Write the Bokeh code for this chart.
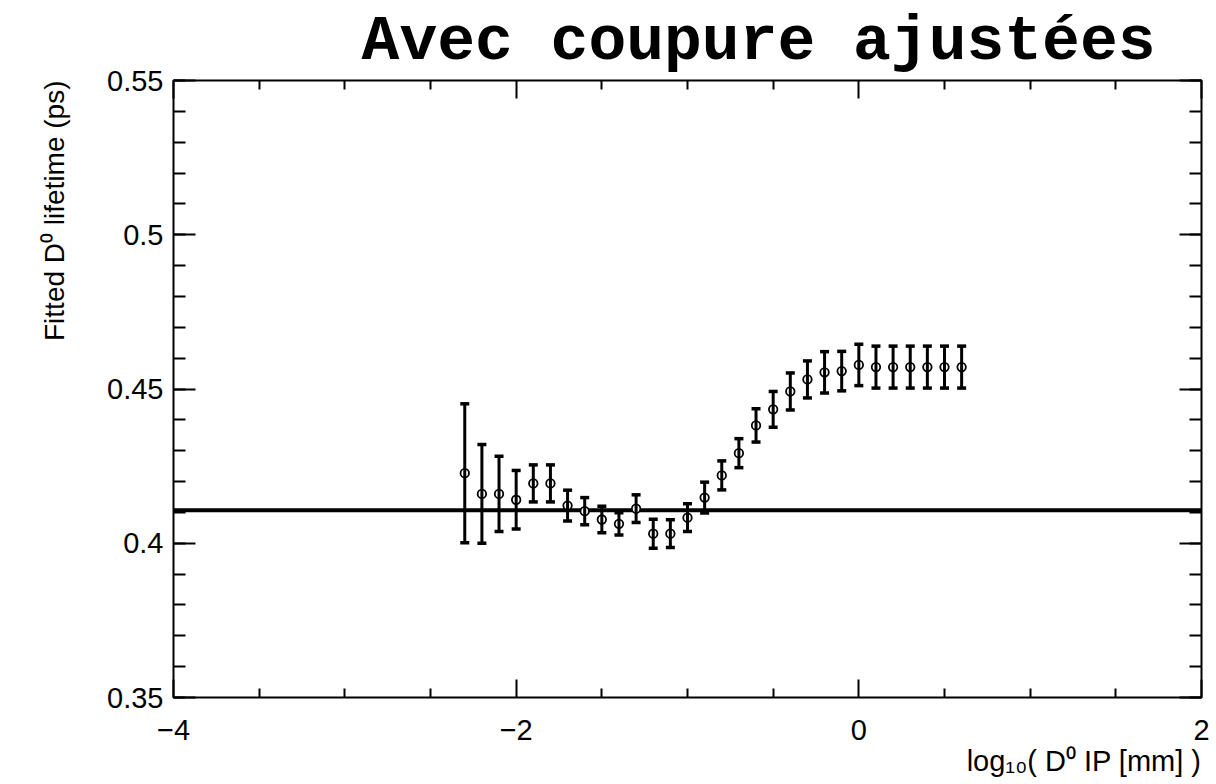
from bokeh.plotting import figure
from bokeh.models import (ColumnDataSource, Whisker, TeeHead, LinearAxis, FixedTicker,
                          CustomJSTickFormatter, Title, Range1d)
from bokeh.embed import file_html
from bokeh.resources import INLINE

# log10 of the D0 impact parameter (bin centres)
log_ip = [-2.3, -2.2, -2.1, -2.0, -1.9, -1.8, -1.7, -1.6, -1.5, -1.4,
          -1.3, -1.2, -1.1, -1.0, -0.9, -0.8, -0.7, -0.6, -0.5, -0.4,
          -0.3, -0.2, -0.1, 0.0, 0.1, 0.2, 0.3, 0.4, 0.5, 0.6]
# fitted lifetime (ps) for each cut value
lifetime = [0.4227, 0.4160, 0.4160, 0.4141, 0.4194, 0.4194, 0.4122, 0.4104, 0.4077, 0.4063,
            0.4112, 0.4031, 0.4031, 0.4083, 0.4148, 0.4220, 0.4292, 0.4382, 0.4434, 0.4492,
            0.4531, 0.4554, 0.4558, 0.4578, 0.4571, 0.4571, 0.4571, 0.4571, 0.4571, 0.4571]
# statistical uncertainty on the fitted lifetime (ps)
lifetime_err = [0.0225, 0.0160, 0.0122, 0.0095, 0.0060, 0.0060, 0.0050, 0.0044, 0.0043, 0.0036,
                0.0045, 0.0047, 0.0045, 0.0045, 0.0050, 0.0047, 0.0047, 0.0054, 0.0058, 0.0060,
                0.0060, 0.0067, 0.0064, 0.0067, 0.0068, 0.0068, 0.0068, 0.0068, 0.0068, 0.0068]
# reference lifetime drawn as a horizontal line
reference_lifetime = 0.4107

x_major = [-4, -2, 0, 2]
x_minor = [-3.5, -3.0, -2.5, -1.5, -1.0, -0.5, 0.5, 1.0, 1.5]
y_major = [0.35, 0.40, 0.45, 0.50, 0.55]
y_minor = [round(0.35 + 0.01 * i, 2) for i in range(21)]

title_text = "Avec coupure ajustées"
x_title = "log\u2081\u2080( D\u2070 IP [mm] )"
y_title = "Fitted D\u2070 lifetime (ps)"

X0, X1 = -4, 2
Y0, Y1 = 0.35, 0.55

src = ColumnDataSource(dict(
    x=log_ip,
    y=lifetime,
    lo=[v - e for v, e in zip(lifetime, lifetime_err)],
    hi=[v + e for v, e in zip(lifetime, lifetime_err)],
))

p = figure(width=1216, height=784, output_backend="svg", toolbar_location=None,
           x_range=Range1d(X0, X1), y_range=Range1d(Y0, Y1),
           x_axis_type=None, y_axis_type=None, title=None,
           min_border_left=173, min_border_right=15, min_border_top=80, min_border_bottom=87)
p.background_fill_color = "white"
p.border_fill_color = "white"
p.outline_line_color = "black"
p.outline_line_width = 2
p.grid.visible = False

minus_fmt = CustomJSTickFormatter(code="return String(tick).replace('-', '\\u2212');")
tick_font = "Liberation Sans"


def make_axis(ticks, minor, major_len, minor_len, labels):
    ax = LinearAxis(ticker=FixedTicker(ticks=ticks, minor_ticks=minor))
    ax.axis_line_color = None
    ax.major_tick_in = major_len
    ax.major_tick_out = 0
    ax.minor_tick_in = minor_len
    ax.minor_tick_out = 0
    ax.major_tick_line_width = 2
    ax.minor_tick_line_width = 2
    ax.major_tick_line_color = "black"
    ax.minor_tick_line_color = "black"
    if labels:
        ax.formatter = minus_fmt
        ax.major_label_text_font = tick_font
        ax.major_label_text_font_size = "29px"
        ax.major_label_text_color = "black"
    else:
        ax.major_label_text_font_size = "0px"
        ax.major_label_text_alpha = 0
    return ax


bottom = make_axis(x_major, x_minor, 18, 9, True)
bottom.major_label_standoff = 22
top = make_axis(x_major, x_minor, 18, 9, False)
left = make_axis(y_major, y_minor, 22, 12, True)
left.major_label_standoff = 10
right = make_axis(y_major, y_minor, 22, 12, False)
p.add_layout(bottom, "below")
p.add_layout(top, "above")
p.add_layout(left, "left")
p.add_layout(right, "right")

# reference lifetime across the full range
p.line(x=[X0, X1], y=[reference_lifetime, reference_lifetime], line_color="black", line_width=4)

# error bars
whisk = Whisker(source=src, base="x", lower="lo", upper="hi", dimension="height",
                line_color="black", line_width=3,
                lower_head=TeeHead(size=9, line_width=3.5, line_color="black"),
                upper_head=TeeHead(size=9, line_width=3.5, line_color="black"))
whisk.level = "glyph"
p.add_layout(whisk)

# measured points
p.scatter(x="x", y="y", source=src, marker="circle", size=8.5,
          fill_color="white", line_color="black", line_width=1.8)

# plot title
p.add_layout(Title(text=title_text, align="right", offset=46, standoff=6,
                   text_font="Liberation Mono", text_font_style="bold",
                   text_font_size="63px", text_color="black"), "above")
# x-axis title, right-aligned under the axis
p.add_layout(Title(text=x_title, align="right", standoff=0,
                   text_font=tick_font, text_font_style="normal",
                   text_font_size="29px", text_color="black"), "below")
# y-axis title, top-aligned beside the axis
p.add_layout(Title(text=y_title, align="right", standoff=66, vertical_align="top",
                   text_font=tick_font, text_font_style="normal",
                   text_font_size="28px", text_color="black"), "left")

open("out.html", "w").write(file_html(p, INLINE))
